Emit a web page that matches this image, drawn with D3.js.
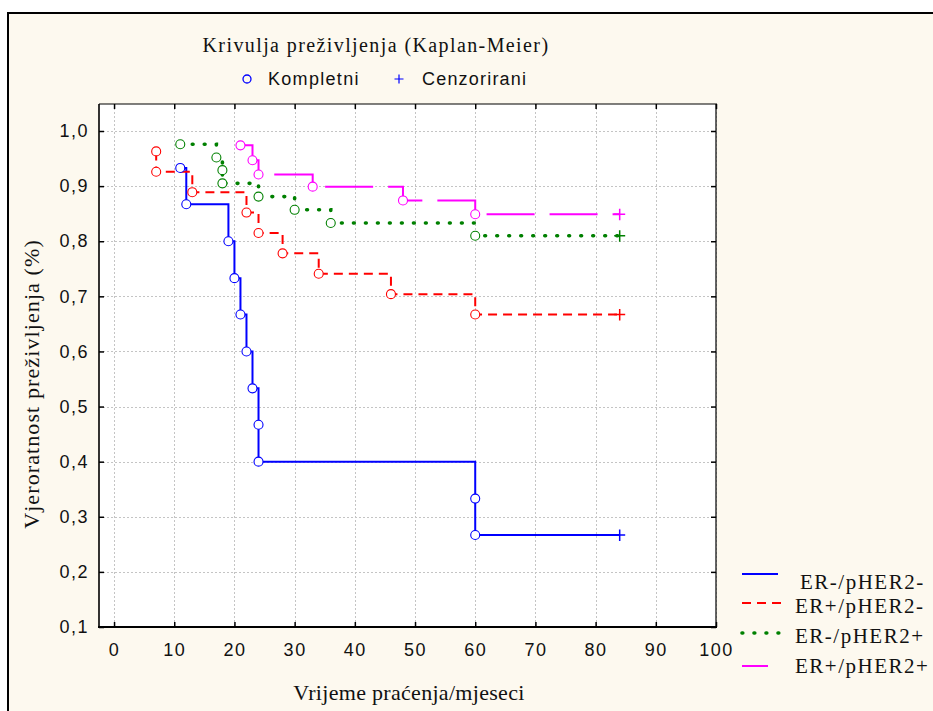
<!DOCTYPE html>
<html><head><meta charset="utf-8">
<script src="https://cdn.jsdelivr.net/npm/d3@7/dist/d3.min.js"></script>
<style>body{margin:0;background:#fff;} svg{display:block;}</style>
</head><body>
<script>
// ---- data ----
const seriesNames = ["ER-/pHER2-", "ER+/pHER2-", "ER-/pHER2+", "ER+/pHER2+"];
const blueTimes = [11, 12, 19, 20, 21, 22, 23, 24, 24, 60, 60];
const blueSurv  = [0.933, 0.867, 0.800, 0.733, 0.667, 0.600, 0.533, 0.467, 0.400, 0.333, 0.267];
const redTimes  = [7, 7, 13, 22, 24, 28, 34, 46, 60];
const redSurv   = [0.963, 0.926, 0.889, 0.852, 0.815, 0.778, 0.741, 0.704, 0.667];
const greenTimes = [11, 17, 18, 18, 24, 30, 36, 60];
const greenSurv  = [0.976, 0.952, 0.929, 0.905, 0.881, 0.857, 0.833, 0.810];
const magTimes = [21, 23, 24, 33, 48, 60];
const magSurv  = [0.974, 0.947, 0.921, 0.899, 0.874, 0.849];
const censoredTimes = [84, 84, 84, 84];
const xTicks = [0, 10, 20, 30, 40, 50, 60, 70, 80, 90, 100];
const yTicks = [0.1, 0.2, 0.3, 0.4, 0.5, 0.6, 0.7, 0.8, 0.9, 1.0];
const titleText = "Krivulja preživljenja (Kaplan-Meier)";
const markerLabels = ["Kompletni", "Cenzorirani"];
const xLabel = "Vrijeme praćenja/mjeseci";
const yLabel = "Vjeroratnost preživljenja (%)";

// ---- styles ----
const styles = [
  {color: "#0000ff", width: 2, dash: null, cap: "butt", legEnd: 778, legX: 800},
  {color: "#ff0000", width: 2, dash: "9,6", cap: "butt", legEnd: 784, legX: 795},
  {color: "#008000", width: 3.6, dash: "0.8,11.2", cap: "round", legEnd: 784, legX: 795},
  {color: "#ff00ff", width: 2, dash: "48,15", cap: "butt", legEnd: 768, legX: 795}
];
const timesArr = [blueTimes, redTimes, greenTimes, magTimes];
const survArr = [blueSurv, redSurv, greenSurv, magSurv];
const series = seriesNames.map((name, i) => ({
  name,
  events: timesArr[i].map((t, j) => ({t, s: survArr[i][j]})),
  cens: {t: censoredTimes[i], s: survArr[i][survArr[i].length - 1]},
  style: styles[i]
}));

const W = 933, H = 711;
const svg = d3.select("body").append("svg").attr("width", W).attr("height", H);
const sans = "'Liberation Sans', Arial, sans-serif";
const serif = "'Liberation Serif', 'Times New Roman', serif";

// background frame
svg.append("rect").attr("x", 8).attr("y", 13).attr("width", 960).attr("height", 740)
  .attr("fill", "#fdf9ef").attr("stroke", "#000").attr("stroke-width", 2);

const L = 99, R = 716, T = 104, B = 627;
const x = d3.scaleLinear().domain([-2.5, 100]).range([L, R]);
const y = d3.scaleLinear().domain([0.1, 1.049]).range([B, T]);

svg.append("rect").attr("x", L).attr("y", T).attr("width", R - L).attr("height", B - T).attr("fill", "#fff");

// grid
const grid = svg.append("g").attr("stroke", "#c4c4c4").attr("stroke-width", 1).attr("stroke-dasharray", "2,2");
xTicks.forEach(t => grid.append("line").attr("x1", Math.round(x(t)) + 0.5).attr("x2", Math.round(x(t)) + 0.5).attr("y1", T).attr("y2", B));
yTicks.forEach(v => grid.append("line").attr("y1", Math.round(y(v)) + 0.5).attr("y2", Math.round(y(v)) + 0.5).attr("x1", L).attr("x2", R));

// axes (ticks inside)
const fmt = v => d3.format(".1f")(v).replace(".", ",");
const axB = svg.append("g").attr("transform", `translate(0,${B})`)
  .call(d3.axisBottom(x).tickValues(xTicks).tickSizeInner(-5).tickSizeOuter(0).tickPadding(16));
const axT = svg.append("g").attr("transform", `translate(0,${T})`)
  .call(d3.axisTop(x).tickValues(xTicks).tickSizeInner(-5).tickSizeOuter(0).tickFormat(""));
const axL = svg.append("g").attr("transform", `translate(${L},0)`)
  .call(d3.axisLeft(y).tickValues(yTicks).tickSizeInner(-5).tickSizeOuter(0).tickPadding(10).tickFormat(fmt));
const axR = svg.append("g").attr("transform", `translate(${R},0)`)
  .call(d3.axisRight(y).tickValues(yTicks).tickSizeInner(-5).tickSizeOuter(0).tickFormat(""));
[axB, axT, axL, axR].forEach(a => {
  a.select(".domain").remove();
  a.selectAll(".tick line").attr("stroke", "#000").attr("stroke-width", 1.5);
});
[axB, axL].forEach(a => a.selectAll(".tick text").attr("fill", "#111")
  .style("font-family", sans).style("font-size", "18px").style("letter-spacing", "1.5px"));
axB.selectAll(".tick text").attr("dy", "0.71em");
// frame lines of plot
svg.append("line").attr("x1", L).attr("x2", R + 1).attr("y1", T).attr("y2", T).attr("stroke", "#000").attr("stroke-width", 1.2);
svg.append("line").attr("x1", R).attr("x2", R).attr("y1", T).attr("y2", B).attr("stroke", "#000").attr("stroke-width", 1.2);
svg.append("line").attr("x1", L).attr("x2", L).attr("y1", T).attr("y2", B + 1).attr("stroke", "#000").attr("stroke-width", 1.6);
svg.append("line").attr("x1", L - 1).attr("x2", R + 1).attr("y1", B).attr("y2", B).attr("stroke", "#000").attr("stroke-width", 2);

// curves
const line = d3.line().curve(d3.curveStepAfter).x(d => x(d.t)).y(d => y(d.s));
series.forEach(s => {
  const pts = s.events.concat([s.cens]);
  svg.append("path").attr("d", line(pts)).attr("fill", "none")
    .attr("stroke", s.style.color).attr("stroke-width", s.style.width)
    .attr("stroke-dasharray", s.style.dash).attr("stroke-linecap", s.style.cap);
});
// markers
series.forEach(s => {
  const c = s.style.color;
  svg.append("g").selectAll("circle").data(s.events).join("circle")
    .attr("cx", d => x(d.t)).attr("cy", d => y(d.s)).attr("r", 4.5)
    .attr("fill", "#fff").attr("stroke", c).attr("stroke-width", 1.1);
  const cx = x(s.cens.t), cy = y(s.cens.s);
  svg.append("path").attr("d", `M${cx - 5.5},${cy}H${cx + 5.5}M${cx},${cy - 5.5}V${cy + 6}`)
    .attr("stroke", c).attr("stroke-width", 1.5).attr("fill", "none");
});

// title & marker legend
svg.append("text").attr("x", 376).attr("y", 52).attr("text-anchor", "middle")
  .style("font-family", serif).style("font-size", "20px").style("letter-spacing", "1.4px")
  .attr("fill", "#111").text(titleText);
svg.append("circle").attr("cx", 247).attr("cy", 79).attr("r", 4).attr("fill", "none").attr("stroke", "#0000ff").attr("stroke-width", 1.3);
svg.append("path").attr("d", "M394.5,79H403.5M399,74.5V83.5").attr("stroke", "#0000ff").attr("stroke-width", 1.2);
svg.append("text").attr("x", 268).attr("y", 85).style("font-family", sans).style("font-size", "18px")
  .style("letter-spacing", "1.3px").attr("fill", "#111").text(markerLabels[0]);
svg.append("text").attr("x", 422).attr("y", 85).style("font-family", sans).style("font-size", "18px")
  .style("letter-spacing", "1.2px").attr("fill", "#111").text(markerLabels[1]);

// axis titles
svg.append("text").attr("x", 409).attr("y", 700).attr("text-anchor", "middle")
  .style("font-family", serif).style("font-size", "22px").style("letter-spacing", "0.3px")
  .attr("fill", "#111").text(xLabel);
svg.append("text").attr("transform", "translate(39,384) rotate(-90)").attr("text-anchor", "middle")
  .style("font-family", serif).style("font-size", "22px").style("letter-spacing", "1.1px")
  .attr("fill", "#111").text(yLabel);

// series legend
const legY = [574, 603, 633, 666];
const legTextY = [588.5, 612.5, 643, 673];
series.forEach((s, i) => {
  svg.append("line").attr("x1", 742).attr("x2", s.style.legEnd).attr("y1", legY[i]).attr("y2", legY[i])
    .attr("stroke", s.style.color).attr("stroke-width", s.style.width)
    .attr("stroke-dasharray", s.style.dash).attr("stroke-linecap", s.style.cap);
  svg.append("text").attr("x", s.style.legX).attr("y", legTextY[i])
    .style("font-family", serif).style("font-size", "21px").style("letter-spacing", "1.5px")
    .attr("fill", "#111").text(s.name);
});
</script>
</body></html>
